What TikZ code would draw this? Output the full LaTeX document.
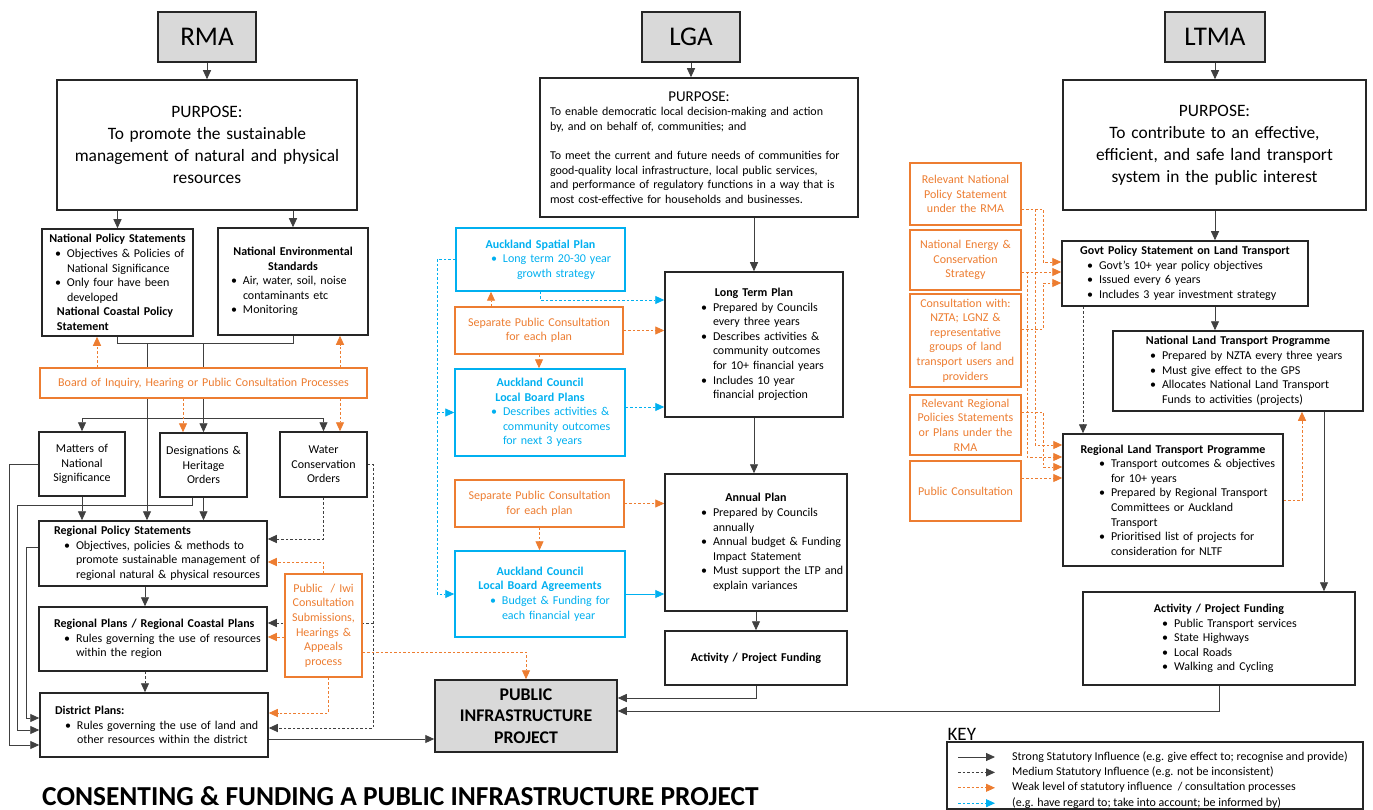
\documentclass[tikz,border=0pt]{standalone}
\usepackage{fontspec}
\setmainfont{Carlito}
\usepackage{xcolor}
\usepackage{tikz}
\usetikzlibrary{positioning,arrows.meta}

\definecolor{consorange}{HTML}{ED7D31}
\definecolor{informblue}{HTML}{00B0F0}
\definecolor{headgray}{HTML}{D9D9D9}
\definecolor{linegray}{HTML}{404040}

\pgfdeclarelayer{links}
\pgfsetlayers{links,main}

\newcommand{\boxhead}[1]{{\centering\bfseries #1\par}}
\newcommand{\boxlead}[2][12pt]{{\leftskip=#1\bfseries #2\par}}
\newcommand{\boxitem}[2][34pt]{{\leftskip=#1\noindent\llap{\textbullet\hspace{6pt}}#2\par}}

\begin{document}
\begin{tikzpicture}[x=1pt, y=-1pt, font=\fontsize{12}{14.6}\selectfont,
	box/.style={draw=black!85, line width=1.5pt, fill=white, inner xsep=3pt, inner ysep=2pt, align=left},
	midbox/.style={box, align=center},
	headbox/.style={box, align=center, fill=headgray, minimum width=98pt, minimum height=50pt, font=\fontsize{27}{30}\selectfont},
	consbox/.style={box, align=center, draw=consorange, text=consorange},
	infobox/.style={box, draw=informblue, text=informblue},
	keytext/.style={anchor=west, inner xsep=0pt, inner ysep=1.5pt, text height=9pt, text depth=3pt},
	plainline/.style={draw=linegray, line width=0.9pt},
	strongline/.style={plainline, -{Triangle[length=9pt,width=8pt]}},
	mediumline/.style={strongline, dash pattern=on 2.5pt off 2pt},
	weakline/.style={draw=consorange, line width=0.9pt, dash pattern=on 2.5pt off 2pt, -{Triangle[length=9pt,width=8pt]}},
	informline/.style={draw=informblue, line width=0.9pt, dash pattern=on 2.5pt off 2pt, -{Triangle[length=9pt,width=8pt]}}]
	\useasboundingbox (0,0) rectangle (1373,810);

	% RMA column
	\node[headbox] (rma) at (207,37) {RMA};
	\node[midbox, text width=294pt, minimum height=130pt, font=\fontsize{17.4}{22}\selectfont] (rmapurp) at (207,145) {PURPOSE:\\To promote the sustainable\\management of natural and physical\\resources};
	\node[box, text width=145pt, minimum height=107pt] (nps) at (117.5,282.5) {\boxhead{National Policy Statements}\boxitem[22pt]{Objectives \& Policies of\\National Significance}\boxitem[22pt]{Only four have been\\developed}\boxlead{National Coastal Policy\\Statement}};
	\node[box, text width=144pt, minimum height=107pt] (nes) at (293,281.5) {\boxhead{National Environmental\\Standards}\boxitem[22pt]{Air, water, soil, noise\\contaminants etc}\boxitem[22pt]{Monitoring}};
	\node[consbox, text width=321pt, minimum height=30pt] (board) at (203.5,383) {Board of Inquiry, Hearing or Public Consultation Processes};
	\node[midbox, text width=80pt, minimum height=64pt] (matters) at (82,464) {Matters of\\National\\Significance};
	\node[midbox, text width=81pt, minimum height=64pt] (desig) at (203.5,465) {Designations \&\\Heritage\\Orders};
	\node[midbox, text width=81pt, minimum height=65pt] (water) at (323.5,464.5) {Water\\Conservation\\Orders};
	\node[box, text width=222pt, minimum height=65pt] (rps) at (153,553.5) {\boxlead{Regional Policy Statements}\boxitem{Objectives, policies \& methods to\\promote sustainable management of\\regional natural \& physical resources}};
	\node[box, text width=222pt, minimum height=64pt] (rplans) at (153,639) {\boxlead{Regional Plans / Regional Coastal Plans}\boxitem{Rules governing the use of resources\\within the region}};
	\node[box, text width=222pt, minimum height=64pt] (dplans) at (154,725) {\boxlead{District Plans:}\boxitem{Rules governing the use of land and\\other resources within the district}};
	\node[consbox, text width=71pt, minimum height=103pt] (iwi) at (323.5,625.5) {Public~~/ Iwi\\Consultation\\Submissions,\\Hearings \&\\Appeals\\process};
	\node[midbox, fill=headgray, text width=176pt, minimum height=72pt, font=\fontsize{17.8}{21.5}\selectfont\bfseries] (pip) at (526,716) {PUBLIC\\INFRASTRUCTURE\\PROJECT};

	% LGA column
	\node[headbox] (lga) at (691,37) {LGA};
	\node[box, text width=312pt, minimum height=139pt] (lgapurp) at (699,147.5) {{\centering\fontsize{15}{18}\selectfont PURPOSE:\par}{\leftskip=7pt To enable democratic local decision-making and action\\by, and on behalf of, communities; and\\[14.6pt]To meet the current and future needs of communities for\\good-quality local infrastructure, local public services,\\and performance of regulatory functions in a way that is\\most cost-effective for households and businesses.\par}};
	\node[infobox, text width=163pt, minimum height=63pt] (spatial) at (540.5,259.5) {\boxhead{Auckland Spatial Plan}\boxitem[44pt]{Long term 20-30 year\\\hspace*{14pt}growth strategy}};
	\node[consbox, text width=162pt, minimum height=47pt] (spcltp) at (539,330.5) {Separate Public Consultation\\for each plan};
	\node[infobox, text width=164pt, minimum height=87pt] (lbplans) at (540,412.5) {\boxhead{Auckland Council\\Local Board Plans}\boxitem[45pt]{Describes activities \&\\community outcomes\\for next 3 years}};
	\node[box, text width=172pt, minimum height=145pt] (ltp) at (754,344.5) {\boxhead{Long Term Plan}\boxitem[45pt]{Prepared by Councils\\every three years}\boxitem[45pt]{Describes activities \&\\community outcomes\\for 10+ financial years}\boxitem[45pt]{Includes 10 year\\financial projection}};
	\node[consbox, text width=163pt, minimum height=47pt] (spcannual) at (539.5,503.5) {Separate Public Consultation\\for each plan};
	\node[infobox, text width=164pt, minimum height=86pt] (lbagree) at (540,594) {\boxhead{Auckland Council\\Local Board Agreements}\boxitem[44pt]{Budget \& Funding for\\each financial year}};
	\node[box, text width=176pt, minimum height=137pt] (annual) at (756,542.5) {\boxhead{Annual Plan}\boxitem[45pt]{Prepared by Councils\\annually}\boxitem[45pt]{Annual budget \& Funding\\Impact Statement}\boxitem[45pt]{Must support the LTP and\\explain variances}};
	\node[midbox, text width=176pt, minimum height=54pt, font=\fontsize{12}{14.6}\selectfont\bfseries] (lgafund) at (756,658) {Activity / Project Funding};

	% LTMA column
	\node[headbox, minimum width=100pt] (ltma) at (1215,37) {LTMA};
	\node[midbox, text width=297pt, minimum height=130pt, font=\fontsize{17.4}{22}\selectfont] (ltmapurp) at (1214.5,145) {PURPOSE:\\To contribute to an effective,\\efficient, and safe land transport\\system in the public interest};
	\node[consbox, text width=105pt, minimum height=62pt] (natpolicy) at (965.5,194) {Relevant National\\Policy Statement\\under the RMA};
	\node[consbox, text width=105pt, minimum height=60pt] (energy) at (965.5,260) {National Energy \&\\Conservation\\Strategy};
	\node[consbox, text width=105pt, minimum height=93pt] (consult) at (965.5,340.5) {Consultation with:\\NZTA; LGNZ \&\\representative\\groups of land\\transport users and\\providers};
	\node[consbox, text width=105pt, minimum height=60pt, inner ysep=0pt] (regpolicy) at (965.5,425) {Relevant Regional\\Policies Statements\\or Plans under the\\RMA};
	\node[consbox, text width=105pt, minimum height=60pt] (pubcons) at (965.5,491) {Public Consultation};
	\node[box, text width=240pt, minimum height=65pt] (gps) at (1185,273.5) {\boxhead{Govt Policy Statement on Land Transport}\boxitem{Govt’s 10+ year policy objectives}\boxitem{Issued every 6 years}\boxitem{Includes 3 year investment strategy}};
	\node[box, text width=244pt, minimum height=80pt] (nltp) at (1238,371) {\boxhead{National Land Transport Programme}\boxitem[46pt]{Prepared by NZTA every three years}\boxitem[46pt]{Must give effect to the GPS}\boxitem[46pt]{Allocates National Land Transport\\Funds to activities (projects)}};
	\node[box, text width=214pt, minimum height=132pt] (rltp) at (1173,500) {\boxhead{Regional Land Transport Programme}\boxitem[45pt]{Transport outcomes \& objectives\\for 10+ years}\boxitem[45pt]{Prepared by Regional Transport\\Committees or Auckland\\Transport}\boxitem[45pt]{Prioritised list of projects for\\consideration for NLTF}};
	\node[box, text width=266pt, minimum height=93pt] (ltmafund) at (1219,638.5) {\boxhead{Activity / Project Funding}\boxitem[88pt]{Public Transport services}\boxitem[88pt]{State Highways}\boxitem[88pt]{Local Roads}\boxitem[88pt]{Walking and Cycling}};

	% key and title
	\node[draw=black!85, line width=1.2pt, minimum width=416pt, minimum height=67pt, inner sep=0pt] (keybox) at (1155,775.5) {};
	\node[anchor=south west, inner sep=1pt, font=\fontsize{19}{22}\selectfont] (keyhead) at (keybox.north west) {KEY};
	\node[keytext] (keystrong) at (1012,757) {Strong Statutory Influence (e.g. give effect to; recognise and provide)};
	\node[keytext, below=0pt of keystrong.south west, anchor=north west] (keymedium) {Medium Statutory Influence (e.g. not be inconsistent)};
	\node[keytext, below=0pt of keymedium.south west, anchor=north west] (keyweak) {Weak level of statutory influence~~/ consultation processes};
	\node[keytext, below=0pt of keyweak.south west, anchor=north west] (keyinform) {(e.g. have regard to; take into account; be informed by)};
	\node[anchor=west, inner sep=0pt, font=\fontsize{27.4}{32}\selectfont\bfseries] (title) at (42,796) {CONSENTING \& FUNDING A PUBLIC INFRASTRUCTURE PROJECT};

	\coordinate (rmasplit) at (147,343);
	\coordinate (rmafork) at (203.5,418);
	\coordinate (railfar) at (9,0);
	\coordinate (railmid) at (17,0);
	\coordinate (railnear) at (26,0);
	\coordinate (waterrail) at (373,0);
	\coordinate (spatialrail) at (437,0);
	\coordinate (ltmarailA) at (1043,0);
	\coordinate (ltmarailB) at (1035,0);
	\coordinate (ltmarailC) at (1027,0);

	\begin{pgfonlayer}{links}
		% RMA links
		\draw[strongline] (rma) -- (rmapurp);
		\draw[strongline] (rmapurp.south -| nps.north) -- (nps.north);
		\draw[strongline] (rmapurp.south -| nes.north) -- (nes.north);
		\draw[plainline] (nps.south) -- ++(0,7) -| (nes.south);
		\draw[strongline] (rmasplit) -- (rmasplit |- rps.north);
		\draw[plainline] (rmasplit -| rmafork) -- (rmafork);
		\draw[strongline] (rmafork) -- (desig.north);
		\draw[strongline] (rmafork) -| (matters.north);
		\draw[strongline] (rmafork) -| (water.north);
		\draw[weakline] ([xshift=-20.5pt]nps.south |- board.north) -- ([xshift=-20.5pt]nps.south);
		\draw[weakline] ([xshift=47pt]nes.south |- board.north) -- ([xshift=47pt]nes.south);
		\draw[weakline] ([xshift=-20.5pt]desig.north |- board.south) -- ([xshift=-20.5pt]desig.north);
		\draw[weakline] ([xshift=16.5pt]water.north |- board.south) -- ([xshift=16.5pt]water.north);
		\draw[strongline] (matters.south) -- (matters.south |- rps.north);
		\draw[strongline] (desig.south) -- (desig.south |- rps.north);
		\draw[strongline] ([xshift=-11.5pt]desig.south) -- ++(0,8) -| ([yshift=-5pt]dplans.west -| railmid) -- ([yshift=-5pt]dplans.west);
		\draw[strongline] (matters.west) -| ([yshift=-20pt]dplans.west -| railfar) -- ([yshift=-20pt]dplans.west);
		\draw[strongline] ([yshift=6.5pt]rps.west) -| ([yshift=7pt]dplans.west -| railnear) -- ([yshift=7pt]dplans.west);
		\draw[strongline] ([xshift=-8pt]rps.south) -- ([xshift=-8pt]rps.south |- rplans.north);
		\draw[mediumline] ([xshift=-8pt]rplans.south) -- ([xshift=-8pt]rplans.south |- dplans.north);
		\draw[mediumline] (water.south) |- ([yshift=14.5pt]rps.east);
		\draw[mediumline] (water.east) -| ([yshift=-3pt]dplans.east -| waterrail) -- ([yshift=-3pt]dplans.east);
		\draw[mediumline] ([yshift=16pt]rplans.east -| waterrail) -- ([yshift=16pt]rplans.east);
		\draw[weakline] (iwi.north) |- ([yshift=-8.5pt]rps.east);
		\draw[weakline] ([yshift=-11.5pt]iwi.west) -- ([yshift=-11.5pt]iwi.west -| rplans.east);
		\draw[weakline] ([xshift=4.5pt]iwi.south) |- ([yshift=12pt]dplans.east);
		\draw[weakline] ([yshift=-26.5pt]iwi.east) -| (pip.north);
		\draw[strongline] ([yshift=-14pt]dplans.east) -- ([yshift=-14pt]dplans.east -| pip.west);

		% LGA links
		\draw[strongline] (lga.south) -- (lga.south |- lgapurp.north);
		\draw[strongline] (lgapurp.south -| ltp.north) -- (ltp.north);
		\draw[strongline] (ltp.south) -- (ltp.south |- annual.north);
		\draw[strongline] (annual.south) -- (annual.south |- lgafund.north);
		\draw[strongline] (lgafund.south) |- ([yshift=18pt]pip.east);
		\draw[strongline] (ltmafund.south) |- ([yshift=5pt]pip.east);
		\draw[informline] (spatial.south) |- ([yshift=44.5pt]ltp.west);
		\draw[informline] (spatial.west) -| (lbagree.west -| spatialrail) -- (lbagree.west);
		\draw[informline] (lbplans.west -| spatialrail) -- (lbplans.west);
		\draw[informline] ([yshift=5.5pt]lbplans.east) -- ([yshift=5.5pt]lbplans.east -| ltp.west);
		\draw[informline, solid] (lbagree.east) -- (lbagree.east -| annual.west);
		\draw[weakline] ([xshift=-48pt]spcltp.north) -- ([xshift=-48pt]spcltp.north |- spatial.south);
		\draw[weakline] (spcltp.east) -- (spcltp.east -| ltp.west);
		\draw[weakline] (spcltp.south) -- (spcltp.south |- lbplans.north);
		\draw[weakline] (spcannual.east) -- (spcannual.east -| annual.west);
		\draw[weakline] (spcannual.south) -- (spcannual.south |- lbagree.north);

		% LTMA links
		\draw[strongline] (ltma.south) -- (ltma.south |- ltmapurp.north);
		\draw[strongline] (ltmapurp.south -| ltma.south) -- (gps.north -| ltma.south);
		\draw[strongline] (gps.south -| ltma.south) -- (nltp.north -| ltma.south);
		\draw[mediumline] ([xshift=-102pt]gps.south) -- ([xshift=-102pt]gps.south |- rltp.north);
		\draw[strongline] ([xshift=86pt]nltp.south) -- ([xshift=86pt]nltp.south |- ltmafund.north);
		\draw[weakline] (rltp.east) -| ([xshift=64pt]nltp.south);
		\draw[weakline] ([yshift=-15pt]natpolicy.east) -| ([yshift=11.5pt]gps.west -| ltmarailA) -- ([yshift=11.5pt]gps.west);
		\draw[weakline] ([yshift=-15pt]natpolicy.east) -| ([yshift=55pt]rltp.west -| ltmarailB) -- ([yshift=55pt]rltp.west);
		\draw[weakline] ([yshift=-12pt]energy.east) -- ([yshift=-12pt]energy.east -| gps.west);
		\draw[weakline] ([yshift=-12pt]energy.east) -| ([yshift=43pt]rltp.west -| ltmarailC) -- ([yshift=43pt]rltp.west);
		\draw[weakline] ([yshift=11.5pt]consult.east) -| ([yshift=-9.5pt]gps.west -| ltmarailA) -- ([yshift=-9.5pt]gps.west);
		\draw[weakline] ([yshift=13pt]regpolicy.east) -| ([yshift=33pt]rltp.west -| ltmarailA) -- ([yshift=33pt]rltp.west);
		\draw[weakline] ([yshift=13pt]pubcons.east) -- ([yshift=13pt]pubcons.east -| rltp.west);

		% key samples
		\draw[strongline] ([xshift=-54pt]keystrong.west) -- ([xshift=-17pt]keystrong.west);
		\draw[mediumline] ([xshift=-54pt]keymedium.west) -- ([xshift=-17pt]keymedium.west);
		\draw[weakline] ([xshift=-54pt]keyweak.west) -- ([xshift=-17pt]keyweak.west);
		\draw[informline] ([xshift=-54pt]keyinform.west) -- ([xshift=-17pt]keyinform.west);
	\end{pgfonlayer}
\end{tikzpicture}
\end{document}
